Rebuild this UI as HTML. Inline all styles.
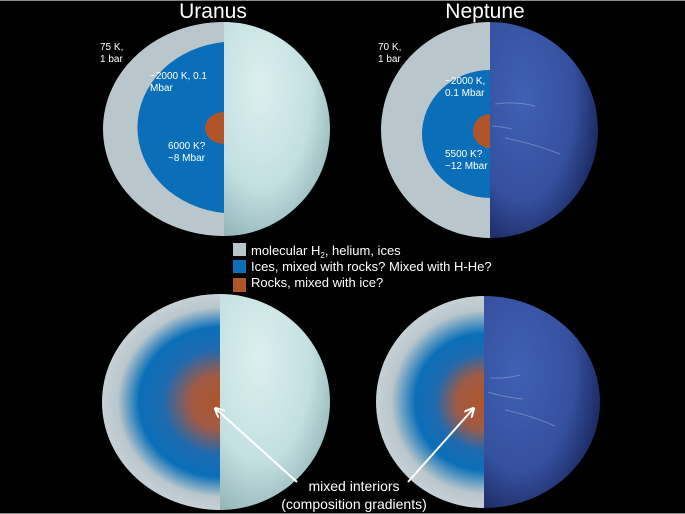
<!DOCTYPE html>
<html><head><meta charset="utf-8"><style>
html,body{margin:0;padding:0;background:#000;}
svg{display:block;}
text{font-family:"Liberation Sans",sans-serif;fill:#fff;}
</style></head><body>
<svg width="685" height="514" viewBox="0 0 685 514" xmlns="http://www.w3.org/2000/svg">
<defs>
<radialGradient id="ur" cx="0.35" cy="0.3" r="0.8">
<stop offset="0" stop-color="#dcefef"/><stop offset="0.6" stop-color="#c3dfe0"/><stop offset="1" stop-color="#8fb0b2"/>
</radialGradient>
<radialGradient id="np" cx="0.3" cy="0.35" r="0.8">
<stop offset="0" stop-color="#4060b4"/><stop offset="0.6" stop-color="#35509e"/><stop offset="1" stop-color="#141e50"/>
</radialGradient>
<radialGradient id="mixU" cx="220" cy="402" r="1" gradientUnits="userSpaceOnUse" gradientTransform="translate(220 402) scale(119 110) translate(-220 -402)">
<stop offset="0" stop-color="#b0552a"/><stop offset="0.25" stop-color="#a05a45"/><stop offset="0.48" stop-color="#1f6ab0"/><stop offset="0.68" stop-color="#0a6fb8"/><stop offset="0.86" stop-color="#b9c6cc"/><stop offset="1" stop-color="#c8d2d6"/>
</radialGradient>
<radialGradient id="mixN" cx="484" cy="402" r="1" gradientUnits="userSpaceOnUse" gradientTransform="translate(484 402) scale(109 108) translate(-484 -402)">
<stop offset="0" stop-color="#b0552a"/><stop offset="0.25" stop-color="#a05a45"/><stop offset="0.45" stop-color="#1f6ab0"/><stop offset="0.63" stop-color="#0a6fb8"/><stop offset="0.85" stop-color="#b9c6cc"/><stop offset="1" stop-color="#c8d2d6"/>
</radialGradient>
<marker id="ah" viewBox="0 0 10 10" refX="8" refY="5" markerWidth="5" markerHeight="5" orient="auto"><path d="M0,0 L10,5 L0,10" fill="none" stroke="#fff" stroke-width="2"/></marker>
</defs>
<rect width="685" height="514" fill="#000"/>
<line x1="0" y1="0.5" x2="685" y2="0.5" stroke="#888"/>
<line x1="0" y1="513.5" x2="685" y2="513.5" stroke="#888"/>

<text x="213" y="18" font-size="21" text-anchor="middle">Uranus</text>
<text x="485" y="18" font-size="21" text-anchor="middle">Neptune</text>

<!-- Uranus top -->
<path d="M224,22 A106,107 0 0 1 224,236 Z" fill="url(#ur)"/>
<path d="M224,22 A121,107 0 0 0 224,236 Z" fill="#b9c6cc"/>
<path d="M224,42 A97,86 0 0 0 224,213 Z" fill="#0a6fb8"/>
<path d="M224,112 A19,16 0 0 0 224,144 Z" fill="#b0552a"/>
<text x="100" y="50" font-size="10">75 K,</text><text x="100" y="62" font-size="10">1 bar</text>
<text x="150" y="79" font-size="10">~2000 K, 0.1</text><text x="150" y="91" font-size="10">Mbar</text>
<text x="168" y="149" font-size="10">6000 K?</text><text x="168" y="161" font-size="10">~8 Mbar</text>

<!-- Neptune top -->
<path d="M490,22 A108,108 0 0 1 490,238 Z" fill="url(#np)"/>
<path d="M495,104 q20,-3 40,2 M492,126 q12,1 20,3 M505,138 q30,6 55,16" stroke="#c8d8f0" stroke-width="1" fill="none" opacity="0.35"/>
<path d="M490,22 A109,108 0 0 0 490,238 Z" fill="#b9c6cc"/>
<path d="M490,70 A68,64 0 0 0 490,198 Z" fill="#0a6fb8"/>
<path d="M490,114 A17,17 0 0 0 490,148 Z" fill="#b0552a"/>
<text x="378" y="50" font-size="10">70 K,</text><text x="378" y="62" font-size="10">1 bar</text>
<text x="445" y="84" font-size="10">~2000 K,</text><text x="445" y="96" font-size="10">0.1 Mbar</text>
<text x="445" y="157" font-size="10">5500 K?</text><text x="445" y="169" font-size="10">~12 Mbar</text>

<!-- legend -->
<rect x="233" y="243" width="13" height="13" fill="#b9c6cc"/>
<text x="251" y="255" font-size="13">molecular H<tspan font-size="8" dy="3">2</tspan><tspan dy="-3">, helium, ices</tspan></text>
<rect x="233" y="260" width="13" height="13" fill="#0a6fb8"/>
<text x="251" y="271" font-size="13">Ices, mixed with rocks? Mixed with H-He?</text>
<rect x="233" y="278" width="13" height="14" fill="#b0552a"/>
<text x="251" y="287" font-size="13">Rocks, mixed with ice?</text>

<!-- Uranus bottom -->
<path d="M220,294 A110,108 0 0 1 220,510 Z" fill="url(#ur)"/>
<path d="M220,294 A118,108 0 0 0 220,510 Z" fill="url(#mixU)"/>
<!-- Neptune bottom -->
<path d="M484,296 A116,106 0 0 1 484,508 Z" fill="url(#np)"/>
<path d="M490,378 q15,1 30,-3 M488,392 q15,5 35,7 M505,410 q25,5 50,16" stroke="#c8d8f0" stroke-width="1" fill="none" opacity="0.35"/>
<path d="M484,296 A108,106 0 0 0 484,508 Z" fill="url(#mixN)"/>

<line x1="297" y1="482" x2="216" y2="409" stroke="#fff" stroke-width="2" marker-end="url(#ah)"/>
<line x1="408" y1="482" x2="473" y2="409" stroke="#fff" stroke-width="2" marker-end="url(#ah)"/>
<text x="354" y="491" font-size="14" text-anchor="middle">mixed interiors</text>
<text x="354" y="509" font-size="14" text-anchor="middle">(composition gradients)</text>
</svg>
</body></html>
